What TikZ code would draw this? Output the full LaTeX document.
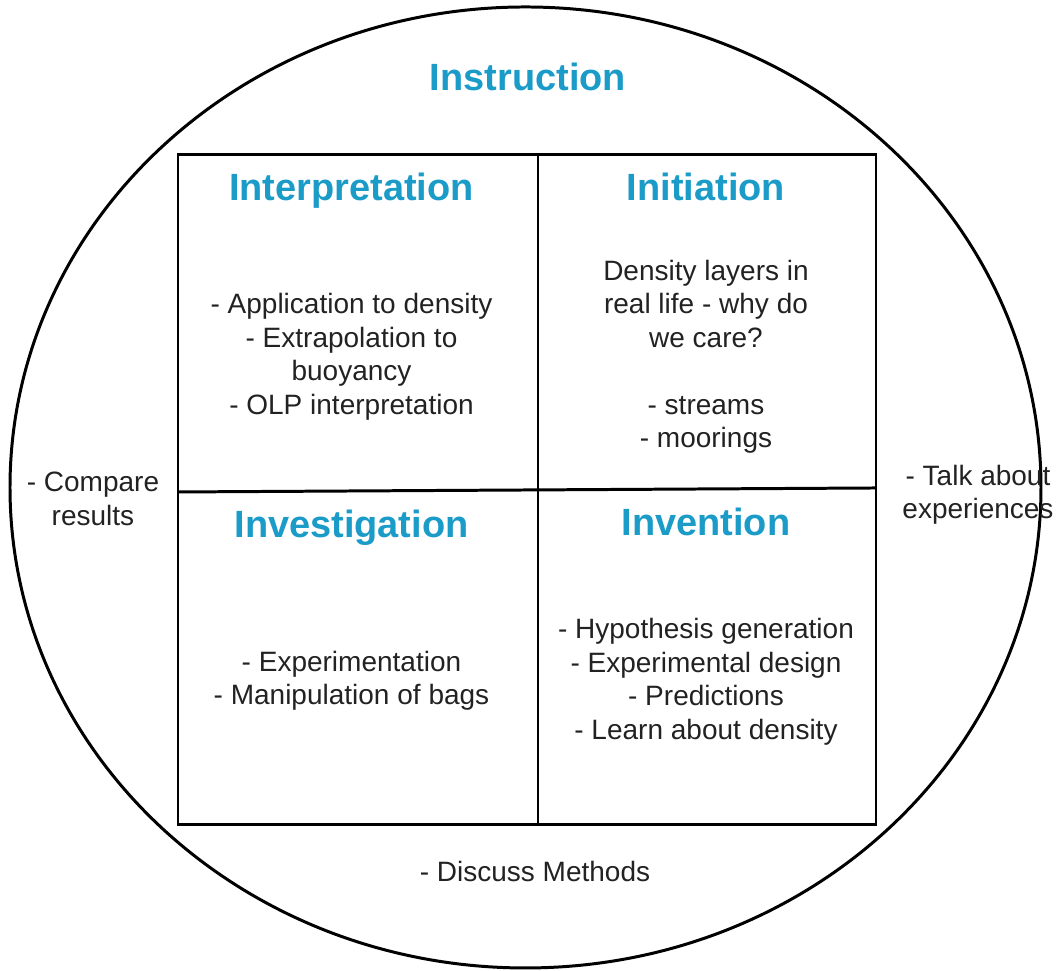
\documentclass[tikz,border=0pt]{standalone}
\usepackage{fontspec}
\setmainfont{Liberation Sans}
\usepackage{xcolor}
\definecolor{stageblue}{HTML}{1A9BC8}
\definecolor{ink}{HTML}{222222}

\tikzset{
	stage/.style={text=stageblue, font=\fontsize{10.8}{13}\selectfont\bfseries},
	note/.style={text=ink, align=center, font=\fontsize{7.97}{9.53}\selectfont},
	frame/.style={line width=0.85pt, black}
}

\begin{document}
\begin{tikzpicture}
	\useasboundingbox (0,0) rectangle (10.58,9.71);

	% outer cycle
	\draw[frame] (5.255,4.835) ellipse [x radius=5.155, y radius=4.805];
	\node[stage] (instr) at (5.28,8.94) {Instruction};

	% four quadrants
	\coordinate (nw) at (1.78,8.16);
	\coordinate (se) at (8.76,1.46);
	\coordinate (top) at (5.38,8.16);
	\coordinate (bot) at (5.38,1.46);
	\coordinate (lmid) at (1.78,4.79);
	\coordinate (rmid) at (8.76,4.83);
	\draw[frame] (nw) rectangle (se);
	\draw[frame] (top) -- (bot);
	\draw[frame] (lmid) -- (rmid);

	% titles
	\node[stage] (interp) at (3.515,7.80) {Interpretation};
	\node[stage] (init) at (7.06,7.84) {Initiation};
	\node[stage] (invest) at (3.515,4.43) {Investigation};
	\node[stage] (invent) at (7.06,4.49) {Invention};

	% contents
	\node[note] (interpTxt) at (3.515,6.14) {- Application to density\\ - Extrapolation to\\ buoyancy\\ - OLP interpretation};
	\node[note] (initTxt) at (7.06,6.14) {Density layers in\\ real life - why do\\ we care?\\[9.53pt] - streams\\ - moorings};
	\node[note] (investTxt) at (3.515,2.90) {- Experimentation\\ - Manipulation of bags};
	\node[note] (inventTxt) at (7.06,2.89) {- Hypothesis generation\\ - Experimental design\\ - Predictions\\ - Learn about density};

	% around the cycle
	\node[note] (compare) at (0.93,4.72) {- Compare\\ results};
	\node[note] (talk) at (9.78,4.76) {- Talk about\\ experiences};
	\node[note] (discuss) at (5.35,0.99) {- Discuss Methods};
\end{tikzpicture}
\end{document}
